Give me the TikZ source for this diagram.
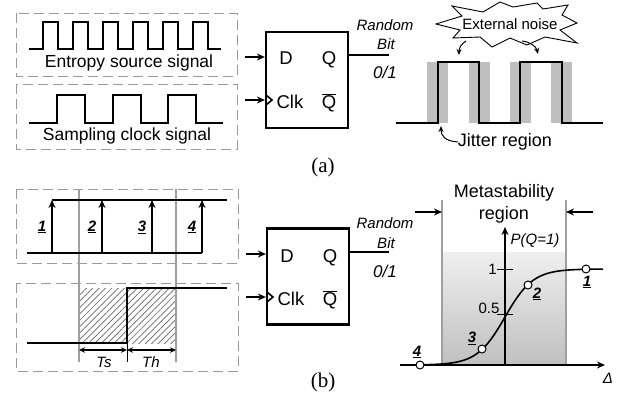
\documentclass[tikz,border=0pt]{standalone}
\usepackage{fontspec}
\setmainfont{Liberation Sans}
\newfontfamily\seriffam{Liberation Serif}
\usetikzlibrary{arrows.meta,patterns.meta}
\begin{document}
\begin{tikzpicture}[x=1pt,y=-1pt,
  sig/.style={line width=2pt, line join=miter},
  dbox/.style={draw=gray!80, line width=1pt, dash pattern=on 10pt off 5pt},
  ff/.style={draw, line width=2.2pt, minimum width=82pt, minimum height=96pt, inner sep=0pt},
  lbl/.style={inner sep=0pt, font=\fontsize{18}{20}\selectfont},
  siglbl/.style={inner sep=0pt, anchor=base, font=\fontsize{17.5}{20}\selectfont},
  pin/.style={inner sep=0pt, anchor=base, font=\fontsize{18.5}{20}\selectfont},
  sml/.style={inner sep=0pt, font=\fontsize{15}{17}\selectfont},
  ital/.style={inner sep=0pt, font=\fontsize{15}{17}\selectfont\itshape},
  bital/.style={inner sep=0pt, font=\fontsize{17}{19}\selectfont\itshape},
  num/.style={inner sep=0pt, font=\fontsize{15}{17}\selectfont\bfseries\itshape},
  figcap/.style={inner sep=0pt, font=\fontsize{21}{23}\selectfont\seriffam},
  arr/.style={line width=1.8pt, -{Stealth[length=8pt,width=7pt]}},
  thinarr/.style={line width=1pt, -{Stealth[length=6pt,width=5pt]}},
  glines/.style={draw=gray!75, line width=1.5pt},
  dot/.style={circle, draw, fill=white, line width=1pt, minimum size=8pt, inner sep=0pt}
]
\useasboundingbox (0,0) rectangle (625,400);

% ================= (a) =================
\draw[dbox] (16,13) rectangle (237,76);
\draw[dbox] (16,84) rectangle (237,149);
\draw[sig] (29,49) \foreach \k in {0,...,5} { -- ({43+30*\k},49) -- ({43+30*\k},22) -- ({58+30*\k},22) -- ({58+30*\k},49) } -- (221,49);
\node[siglbl] (ent) at (129,67.5) {Entropy source signal};
\draw[sig] (29,123) \foreach \k in {0,1,2} { -- ({57+55.5*\k},123) -- ({57+55.5*\k},95) -- ({85+55.5*\k},95) -- ({85+55.5*\k},123) } -- (223,123);
\node[siglbl] (smp) at (127,140.5) {Sampling clock signal};

% flip-flop (a)
\node[ff] (ffa) at (307,80) {};
\node[pin] (da) at (286,64.5) {D};
\node[pin] (qa) at (329,64.5) {Q};
\node[pin] (clka) at (290,108.5) {Clk};
\node[pin] (qba) at (329,108.5) {\(\overline{\hbox{Q}}\)};
\coordinate (dina) at (245,57);
\coordinate (cina) at (245,100);
\draw[arr] (dina) -- (dina -| ffa.west);
\draw[arr] (cina) -- (cina -| ffa.west);
\draw[line width=1.6pt] (266,95) -- (272,100) -- (266,105);
\coordinate (outa) at (389,55);
\draw[line width=1.8pt] (outa -| ffa.east) -- (outa);
\node[ital] (rnda) at (385,25) {Random};
\node[ital] (bita) at (386,44) {Bit};
\node[bital] (vala) at (385,72) {0/1};

% jitter waveform
\foreach \xx in {427,469,510,551} { \fill[gray!50] (\xx,62) rectangle ++(21,61); }
\draw[sig] (396,123) -- (438,123) -- (438,62) -- (479,62) -- (479,123) -- (520,123) -- (520,62) -- (562,62) -- (562,123) -- (603,123);
\draw[line width=0.9pt, fill=white, line join=miter]
  (436,24) -- (462,16) -- (452,6) -- (483,12) -- (500,2) -- (513,7) -- (537,3) -- (543,9) -- (568,5) -- (562,15)
  -- (577,23) -- (560,30) -- (577,43) -- (545,37) -- (527,45) -- (510,38) -- (492,47) -- (480,37) -- (453,38) -- (460,30) -- cycle;
\node[sml] (noise) at (510,24) {External noise};
\draw[thinarr] (466,41) .. controls (461,44) and (459,48) .. (459,55);
\draw[thinarr] (522,41) .. controls (530,42) and (536,46) .. (538,54);
\node[lbl] (jit) at (505,142) {Jitter region};
\draw[thinarr] (jit.west) .. controls (444,141) and (441,135) .. (441,126);

\node[figcap] (capa) at (323,167) {(a)};

% ================= (b) =================
\draw[dbox] (16,189) rectangle (238,263);
\draw[dbox] (16,283) rectangle (238,371);
% hatched
\fill[pattern={Lines[angle=45,distance=4.5pt,line width=0.7pt]}, pattern color=black!60] (79,288) rectangle (176,343);
\draw[glines] (79,189) -- (79,362);
\draw[glines] (176,189) -- (176,362);
% top signal
\draw[sig] (52,200) -- (227,200);
\draw[sig] (27,253) -- (202,253);
\foreach \xx/\n in {52/1,102/2,152/3,202/4} {
  \draw[arr] (\xx,253) -- (\xx,200);
  \node[num] (t\n) at ({\xx-10},227) {\underline{\n}};
}
% bottom signal
\draw[sig] (27,343) -- (127,343) -- (127,288) -- (227,288);
\draw[line width=1pt] (127,343) -- (127,362);
\coordinate (tsl) at (79,350);
\coordinate (tsm) at (127,350);
\coordinate (tsr) at (176,350);
\draw[line width=1.1pt, {Stealth[length=6pt,width=5.5pt]}-{Stealth[length=6pt,width=5.5pt]}] (tsl) -- (tsm);
\draw[line width=1.1pt, {Stealth[length=6pt,width=5.5pt]}-{Stealth[length=6pt,width=5.5pt]}] (tsm) -- (tsr);
\node[ital] (ts) at (104,362) {Ts};
\node[ital] (th) at (151,362) {Th};

% flip-flop (b)
\node[ff] (ffb) at (308,276.5) {};
\node[pin] (db) at (287,262.5) {D};
\node[pin] (qb) at (330,262.5) {Q};
\node[pin] (clkb) at (291,305.5) {Clk};
\node[pin] (qbb) at (330,305.5) {\(\overline{\hbox{Q}}\)};
\coordinate (dinb) at (246,254);
\coordinate (cinb) at (246,297);
\draw[arr] (dinb) -- (dinb -| ffb.west);
\draw[arr] (cinb) -- (cinb -| ffb.west);
\draw[line width=1.6pt] (267,292) -- (273,297) -- (267,302);
\coordinate (outb) at (389,252);
\draw[line width=1.8pt] (outb -| ffb.east) -- (outb);
\node[ital] (rndb) at (385,223) {Random};
\node[ital] (bitb) at (386,243) {Bit};
\node[bital] (valb) at (385,271) {0/1};

% metastability plot
\shade[top color=gray!12, bottom color=gray!50] (442,252) rectangle (566,365);
\draw[glines] (442,200) -- (442,365);
\draw[glines] (566,200) -- (566,365);
\node[lbl] (meta) at (504,193) {Metastability};
\node[lbl] (reg) at (504,215) {region};
\coordinate (ml) at (415,212);
\coordinate (mr) at (593,212);
\draw[arr, line width=1.4pt] (ml) -- (442,212);
\draw[arr, line width=1.4pt] (mr) -- (566,212);
\draw[arr, line width=1.5pt] (505,365) -- (505,227);
\draw[arr, line width=1.5pt] (400,365) -- (605,365);
\node[ital] (pq) at (535,241) {P(Q=1)};
\node[ital] (delta) at (608,378) {Δ};
\draw[line width=1pt] (497,269) -- (513,269);
\draw[line width=1pt] (497,314) -- (513,314);
\node[sml, anchor=east] (one) at (497,269) {1};
\node[sml] (half) at (489,308) {0.5};
\draw[line width=1.6pt] plot[domain=402:603, samples=120, smooth] (\x, {365-96/(1+exp(-(\x-505)/14))});
\node[dot] (p1) at (586,269) {};
\node[dot] (p2) at (528,285) {};
\node[dot] (p3) at (482,349) {};
\node[dot] (p4) at (420,365) {};
\node[num] (n1) at (587,282) {\underline{1}};
\node[num] (n2) at (537,294) {\underline{2}};
\node[num] (n3) at (472,338) {\underline{3}};
\node[num] (n4) at (417,352) {\underline{4}};

\node[figcap] (capb) at (323,382) {(b)};
\end{tikzpicture}
\end{document}
